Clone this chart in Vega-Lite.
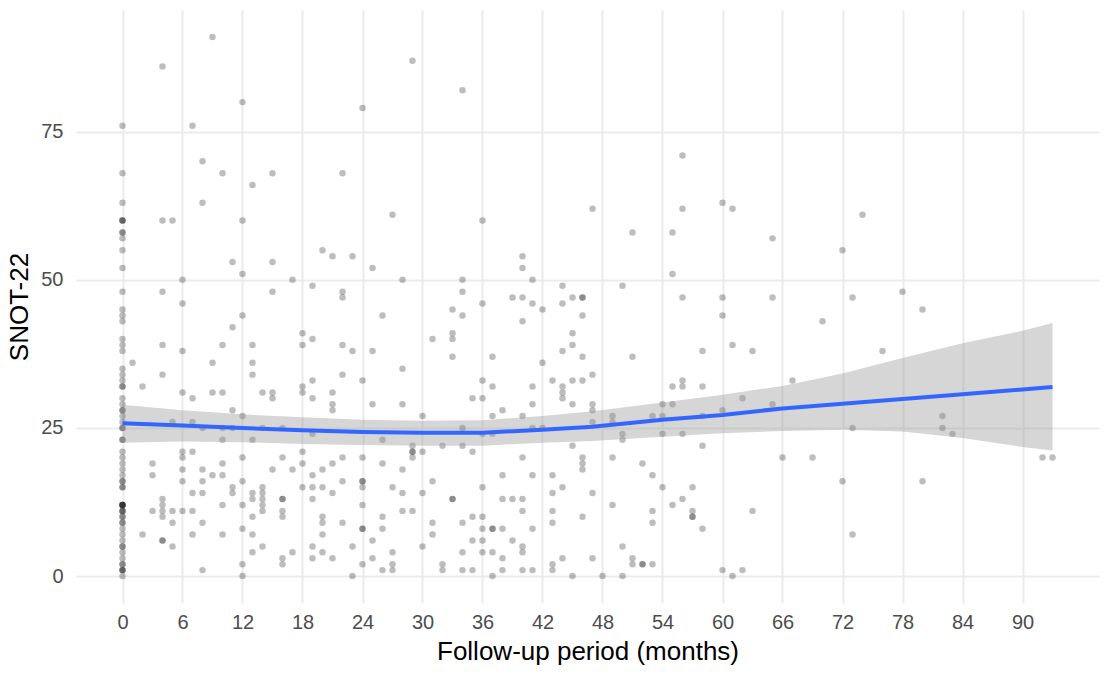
{
  "$schema": "https://vega.github.io/schema/vega-lite/v6.json",
  "autosize": {"type": "none"},
  "width": 1023,
  "height": 593,
  "padding": {"left": 76, "top": 10, "right": 10, "bottom": 72},
  "config": {
    "view": {"stroke": null},
    "font": "Liberation Sans",
    "axis": {
      "grid": true,
      "gridColor": "#ebebeb",
      "gridWidth": 2,
      "domain": false,
      "ticks": false,
      "tickSize": 0,
      "labelFontSize": 20,
      "labelColor": "#4d4d4d",
      "titleFontSize": 26,
      "titleFontWeight": "normal",
      "titleColor": "#000000"
    }
  },
  "datasets": {
    "pts": [
      {"m":0,"s":0},{"m":0,"s":1},{"m":0,"s":1},{"m":0,"s":1},{"m":0,"s":2},{"m":0,"s":2},{"m":0,"s":3},{"m":0,"s":4},{"m":0,"s":5},{"m":0,"s":5},
      {"m":0,"s":6},{"m":0,"s":7},{"m":0,"s":8},{"m":0,"s":9},{"m":0,"s":9},{"m":0,"s":10},{"m":0,"s":10},{"m":0,"s":11},{"m":0,"s":11},{"m":0,"s":11},
      {"m":0,"s":12},{"m":0,"s":12},{"m":0,"s":12},{"m":0,"s":12},{"m":0,"s":12},{"m":0,"s":15},{"m":0,"s":15},{"m":0,"s":16},{"m":0,"s":16},{"m":0,"s":17},
      {"m":0,"s":18},{"m":0,"s":19},{"m":0,"s":20},{"m":0,"s":21},{"m":0,"s":23},{"m":0,"s":23},{"m":0,"s":25},{"m":0,"s":25},{"m":0,"s":26},{"m":0,"s":27},
      {"m":0,"s":28},{"m":0,"s":28},{"m":0,"s":29},{"m":0,"s":30},{"m":0,"s":32},{"m":0,"s":32},{"m":0,"s":33},{"m":0,"s":34},{"m":0,"s":35},{"m":0,"s":38},
      {"m":0,"s":39},{"m":0,"s":40},{"m":0,"s":43},{"m":0,"s":44},{"m":0,"s":45},{"m":0,"s":48},{"m":0,"s":52},{"m":0,"s":55},{"m":0,"s":57},{"m":0,"s":58},
      {"m":0,"s":58},{"m":0,"s":60},{"m":0,"s":60},{"m":0,"s":60},{"m":0,"s":63},{"m":0,"s":68},{"m":0,"s":76},
      {"m":9,"s":91},{"m":4,"s":86},{"m":12,"s":80},{"m":7,"s":76},{"m":8,"s":70},{"m":10,"s":68},{"m":15,"s":68},{"m":13,"s":66},{"m":8,"s":63},{"m":4,"s":60},
      {"m":5,"s":60},{"m":12,"s":60},{"m":20,"s":55},{"m":21,"s":54},{"m":11,"s":53},{"m":15,"s":53},{"m":12,"s":51},{"m":6,"s":50},{"m":17,"s":50},{"m":19,"s":49},
      {"m":4,"s":48},{"m":15,"s":48},{"m":6,"s":46},
      {"m":12,"s":44},{"m":11,"s":42},{"m":4,"s":39},{"m":6,"s":38},{"m":10,"s":39},{"m":13,"s":39},{"m":1,"s":36},{"m":9,"s":36},{"m":13,"s":36},{"m":4,"s":34},
      {"m":13,"s":34},{"m":18,"s":41},{"m":19,"s":40},{"m":18,"s":39},{"m":2,"s":32},{"m":6,"s":31},{"m":7,"s":30},{"m":9,"s":31},{"m":10,"s":31},{"m":14,"s":31},
      {"m":15,"s":31},{"m":15,"s":30},{"m":18,"s":32},{"m":18,"s":31},{"m":19,"s":33},{"m":19,"s":30},{"m":21,"s":31},{"m":21,"s":29},{"m":21,"s":28},{"m":11,"s":28},
      {"m":12,"s":27},{"m":5,"s":26},{"m":7,"s":26},{"m":8,"s":25},{"m":10,"s":25},{"m":11,"s":25},{"m":14,"s":25},{"m":16,"s":25},{"m":10,"s":23},{"m":13,"s":23},
      {"m":19,"s":24},{"m":6,"s":21},{"m":7,"s":21},{"m":6,"s":20},{"m":12,"s":20},{"m":16,"s":20},{"m":18,"s":21},{"m":18,"s":19},{"m":21,"s":19},{"m":3,"s":19},
      {"m":3,"s":17},{"m":6,"s":18},{"m":8,"s":18},{"m":10,"s":19},{"m":9,"s":17},{"m":10,"s":17},{"m":15,"s":18},{"m":17,"s":18},{"m":19,"s":17},{"m":20,"s":18},
      {"m":6,"s":16},{"m":8,"s":16},{"m":12,"s":16},{"m":11,"s":15},{"m":11,"s":14},{"m":14,"s":15},{"m":14,"s":14},{"m":14,"s":13},{"m":14,"s":12},{"m":14,"s":11},
      {"m":13,"s":14},{"m":13,"s":13},{"m":18,"s":15},{"m":19,"s":15},{"m":20,"s":15},{"m":21,"s":14},{"m":7,"s":14},{"m":8,"s":14},{"m":4,"s":13},{"m":4,"s":12},
      {"m":4,"s":11},{"m":4,"s":10},{"m":3,"s":11},{"m":5,"s":11},{"m":6,"s":11},{"m":7,"s":11},{"m":16,"s":13},{"m":16,"s":13},{"m":16,"s":11},{"m":16,"s":10},
      {"m":10,"s":12},{"m":12,"s":12},{"m":19,"s":13},{"m":5,"s":9},{"m":8,"s":9},{"m":13,"s":10},{"m":20,"s":10},{"m":20,"s":9},{"m":2,"s":7},{"m":7,"s":7},
      {"m":10,"s":7},{"m":12,"s":8},{"m":13,"s":7},{"m":20,"s":7},{"m":4,"s":6},{"m":4,"s":6},{"m":5,"s":5},{"m":14,"s":5},{"m":13,"s":4},{"m":17,"s":4},
      {"m":19,"s":5},{"m":20,"s":4},{"m":19,"s":3},{"m":21,"s":3},{"m":16,"s":3},{"m":16,"s":2},{"m":8,"s":1},{"m":12,"s":2},{"m":12,"s":0},
      {"m":29,"s":87},{"m":34,"s":82},{"m":24,"s":79},{"m":22,"s":68},{"m":27,"s":61},{"m":36,"s":60},{"m":23,"s":54},{"m":25,"s":52},{"m":28,"s":50},{"m":34,"s":50},
      {"m":40,"s":54},{"m":40,"s":52},{"m":41,"s":50},{"m":22,"s":48},{"m":22,"s":47},{"m":34,"s":48},{"m":44,"s":49},{"m":39,"s":47},{"m":40,"s":47},{"m":45,"s":47},
      {"m":46,"s":47},{"m":46,"s":47},{"m":36,"s":46},{"m":41,"s":46},{"m":44,"s":46},{"m":33,"s":45},{"m":42,"s":45},{"m":47,"s":62},
      {"m":34,"s":44},{"m":26,"s":44},{"m":40,"s":43},{"m":46,"s":44},{"m":45,"s":41},{"m":31,"s":40},{"m":33,"s":41},{"m":33,"s":40},{"m":22,"s":39},{"m":23,"s":38},
      {"m":25,"s":38},{"m":44,"s":38},{"m":45,"s":39},{"m":46,"s":37},{"m":33,"s":37},{"m":37,"s":37},{"m":28,"s":35},{"m":42,"s":36},{"m":22,"s":34},{"m":24,"s":33},
      {"m":36,"s":33},{"m":37,"s":32},{"m":43,"s":33},{"m":44,"s":32},{"m":44,"s":31},{"m":44,"s":30},{"m":45,"s":33},{"m":46,"s":33},{"m":41,"s":32},{"m":25,"s":29},
      {"m":28,"s":29},{"m":35,"s":30},{"m":36,"s":30},{"m":38,"s":28},{"m":37,"s":27},{"m":41,"s":29},{"m":45,"s":29},{"m":30,"s":27},{"m":40,"s":27},{"m":34,"s":25},
      {"m":41,"s":25},{"m":42,"s":25},{"m":37,"s":24},{"m":36,"s":24},{"m":26,"s":23},{"m":29,"s":22},{"m":29,"s":21},{"m":29,"s":21},{"m":29,"s":20},{"m":30,"s":21},
      {"m":32,"s":22},{"m":34,"s":22},{"m":35,"s":21},{"m":45,"s":22},{"m":22,"s":20},{"m":24,"s":20},{"m":26,"s":19},{"m":28,"s":18},{"m":40,"s":20},{"m":46,"s":20},
      {"m":46,"s":19},{"m":46,"s":18},{"m":24,"s":16},{"m":24,"s":16},{"m":24,"s":15},{"m":22,"s":16},{"m":31,"s":16},{"m":38,"s":17},{"m":41,"s":17},{"m":43,"s":17},
      {"m":27,"s":15},{"m":36,"s":15},{"m":44,"s":15},{"m":28,"s":14},{"m":30,"s":14},{"m":33,"s":13},{"m":33,"s":13},{"m":38,"s":13},{"m":39,"s":13},{"m":40,"s":13},
      {"m":43,"s":14},{"m":24,"s":12},{"m":28,"s":11},{"m":29,"s":11},{"m":40,"s":11},{"m":43,"s":11},{"m":26,"s":10},{"m":35,"s":10},{"m":36,"s":10},{"m":46,"s":10},
      {"m":22,"s":9},{"m":31,"s":9},{"m":34,"s":9},{"m":43,"s":9},{"m":24,"s":8},{"m":24,"s":8},{"m":26,"s":8},{"m":36,"s":8},{"m":37,"s":8},{"m":37,"s":8},
      {"m":38,"s":8},{"m":41,"s":8},{"m":31,"s":7},{"m":25,"s":6},{"m":35,"s":6},{"m":36,"s":6},{"m":39,"s":6},{"m":23,"s":5},{"m":30,"s":5},{"m":40,"s":5},
      {"m":40,"s":4},{"m":27,"s":4},{"m":34,"s":4},{"m":36,"s":4},{"m":37,"s":4},{"m":25,"s":3},{"m":38,"s":3},{"m":44,"s":3},{"m":24,"s":2},{"m":27,"s":2},
      {"m":32,"s":2},{"m":43,"s":2},{"m":26,"s":1},{"m":27,"s":1},{"m":32,"s":1},{"m":34,"s":1},{"m":35,"s":1},{"m":38,"s":1},{"m":40,"s":1},{"m":41,"s":1},
      {"m":43,"s":1},{"m":23,"s":0},{"m":37,"s":0},{"m":45,"s":0},
      {"m":56,"s":71},{"m":56,"s":62},{"m":60,"s":63},{"m":61,"s":62},{"m":51,"s":58},{"m":55,"s":58},{"m":65,"s":57},{"m":72,"s":55},{"m":55,"s":51},{"m":50,"s":49},
      {"m":56,"s":47},{"m":60,"s":47},{"m":65,"s":47},
      {"m":60,"s":44},{"m":70,"s":43},{"m":51,"s":37},{"m":58,"s":38},{"m":61,"s":39},{"m":63,"s":38},{"m":47,"s":34},{"m":55,"s":32},{"m":56,"s":33},{"m":56,"s":32},
      {"m":58,"s":32},{"m":67,"s":33},{"m":62,"s":30},{"m":65,"s":29},{"m":47,"s":29},{"m":47,"s":28},{"m":47,"s":26},{"m":49,"s":27},{"m":49,"s":26},{"m":50,"s":24},
      {"m":50,"s":23},{"m":53,"s":27},{"m":54,"s":29},{"m":54,"s":27},{"m":55,"s":29},{"m":54,"s":24},{"m":56,"s":24},{"m":58,"s":27},{"m":60,"s":28},{"m":58,"s":22},
      {"m":49,"s":20},{"m":52,"s":19},{"m":53,"s":17},{"m":66,"s":20},{"m":69,"s":20},{"m":72,"s":16},{"m":54,"s":15},{"m":57,"s":15},{"m":47,"s":14},{"m":49,"s":12},
      {"m":55,"s":12},{"m":56,"s":13},{"m":53,"s":11},{"m":53,"s":9},{"m":57,"s":11},{"m":57,"s":10},{"m":57,"s":10},{"m":58,"s":8},{"m":63,"s":11},{"m":50,"s":5},
      {"m":47,"s":3},{"m":51,"s":3},{"m":51,"s":2},{"m":52,"s":2},{"m":52,"s":2},{"m":53,"s":2},{"m":48,"s":0},{"m":50,"s":0},{"m":60,"s":1},{"m":61,"s":0},
      {"m":62,"s":1},
      {"m":74,"s":61},{"m":73,"s":47},{"m":78,"s":48},{"m":80,"s":45},{"m":76,"s":38},{"m":82,"s":27},{"m":73,"s":25},{"m":82,"s":25},{"m":83,"s":24},{"m":92,"s":20},
      {"m":93,"s":20},{"m":80,"s":16},{"m":73,"s":7}
    ],
    "fit": [
      {"m":0,"fit":25.8,"lo":22.5,"hi":28.9},
      {"m":6,"fit":25.4,"lo":22.7,"hi":28.0},
      {"m":12,"fit":25.0,"lo":22.6,"hi":27.3},
      {"m":18,"fit":24.6,"lo":22.3,"hi":26.8},
      {"m":24,"fit":24.3,"lo":22.1,"hi":26.4},
      {"m":30,"fit":24.2,"lo":22.0,"hi":26.2},
      {"m":36,"fit":24.2,"lo":22.0,"hi":26.3},
      {"m":42,"fit":24.7,"lo":22.5,"hi":27.0},
      {"m":47,"fit":25.2,"lo":22.8,"hi":27.8},
      {"m":54,"fit":26.4,"lo":23.5,"hi":29.3},
      {"m":60,"fit":27.2,"lo":24.1,"hi":30.6},
      {"m":66,"fit":28.3,"lo":24.5,"hi":32.1},
      {"m":72,"fit":29.1,"lo":24.7,"hi":34.2},
      {"m":78,"fit":29.9,"lo":24.4,"hi":36.8},
      {"m":84,"fit":30.7,"lo":23.3,"hi":39.3},
      {"m":90,"fit":31.5,"lo":21.8,"hi":41.4},
      {"m":93,"fit":31.9,"lo":21.2,"hi":42.7}
    ]
  },
  "encoding": {
    "x": {
      "field": "m",
      "type": "quantitative",
      "scale": {"domain": [-4.65, 97.65], "nice": false, "zero": false},
      "axis": {
        "values": [0, 6, 12, 18, 24, 30, 36, 42, 48, 54, 60, 66, 72, 78, 84, 90],
        "labelPadding": 9,
        "titlePadding": 6,
        "title": "Follow-up period (months)"
      }
    }
  },
  "layer": [
    {
      "data": {"name": "pts"},
      "mark": {"type": "circle", "size": 42, "color": "#000000", "opacity": 0.26},
      "encoding": {
        "y": {
          "field": "s",
          "type": "quantitative",
          "scale": {"domain": [-4.55, 95.55], "nice": false, "zero": false},
          "axis": {
            "values": [0, 25, 50, 75],
            "labelPadding": 13,
            "titlePadding": 8,
            "title": "SNOT-22"
          }
        }
      }
    },
    {
      "data": {"name": "fit"},
      "mark": {"type": "area", "color": "#999999", "opacity": 0.4},
      "encoding": {
        "y": {"field": "lo", "type": "quantitative"},
        "y2": {"field": "hi"}
      }
    },
    {
      "data": {"name": "fit"},
      "mark": {"type": "line", "color": "#3366FF", "strokeWidth": 4},
      "encoding": {
        "y": {"field": "fit", "type": "quantitative"}
      }
    }
  ]
}
